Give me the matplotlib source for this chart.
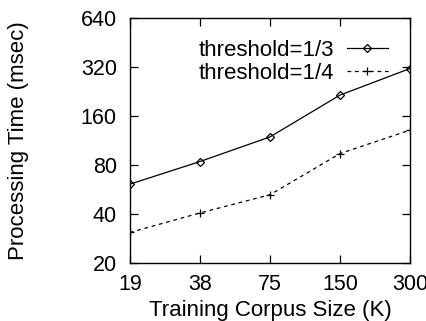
import numpy as np
import matplotlib
matplotlib.use("Agg")
from matplotlib import pyplot as plt
from matplotlib.ticker import FixedLocator, NullLocator

plt.rcParams['font.family'] = ['Liberation Sans', 'DejaVu Sans']

corpus_sizes = ["19", "38", "75", "150", "300"]
time_third = [61, 84, 119, 215, 313]
time_quarter = [30.8, 40.6, 52.5, 94, 131]
y_ticks = [20, 40, 80, 160, 320, 640]

fig = plt.figure(figsize=(4.27, 3.21), dpi=100)
ax = fig.add_axes([0.3044, 0.1807, 0.6557, 0.7633])

x = np.arange(len(corpus_sizes))
ax.plot(x, time_third, color='black', lw=0.9, marker='D', ms=4.3,
        mfc='none', mec='black', mew=0.9, label='threshold=1/3')
ax.plot(x, time_quarter, color='black', lw=0.9, ls=(0, (3, 3)), marker='+',
        ms=6, mew=0.9, label='threshold=1/4')

ax.set_yscale('log', base=2)
ax.set_ylim(20, 640)
ax.yaxis.set_major_locator(FixedLocator(y_ticks))
ax.yaxis.set_minor_locator(NullLocator())
ax.set_yticks(y_ticks, [str(v) for v in y_ticks])
ax.set_xlim(0, len(corpus_sizes) - 1)
ax.set_xticks(x, corpus_sizes)

ax.tick_params(direction='in', top=True, right=True, length=6, width=0.9,
               labelsize=15.5)
ax.tick_params(axis='y', pad=9.5)
ax.tick_params(axis='x', pad=8)
for s in ax.spines.values():
    s.set_linewidth(1.0)

ax.set_xlabel('Training Corpus Size (K)', fontsize=16)
ax.set_ylabel('Processing Time (msec)', fontsize=16)
ax.xaxis.set_label_coords(0.5, -0.15)
ax.yaxis.set_label_coords(-0.36, 0.5)

ax.legend(loc='upper right', frameon=False, markerfirst=False, fontsize=16,
          handlelength=1.85, handletextpad=0.58, borderpad=0, borderaxespad=0,
          labelspacing=0.1, bbox_to_anchor=(0.921, 0.91))

fig.savefig('out.png', dpi=100)
